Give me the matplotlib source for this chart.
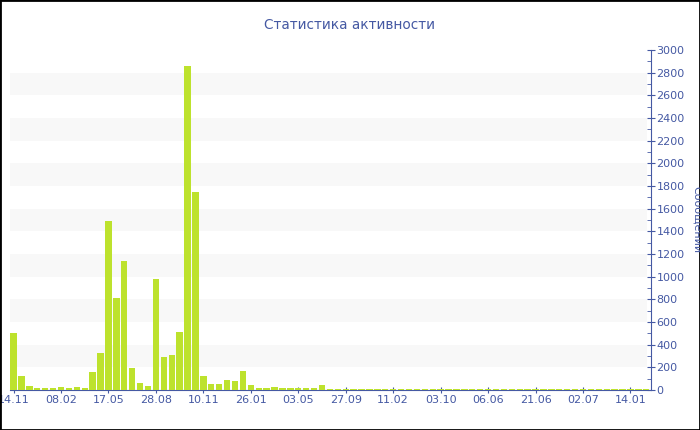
import numpy as np
import matplotlib.pyplot as plt
from matplotlib.patches import Rectangle

title = "Статистика активности"
ylabel = "Сообщений"

# messages per period
counts = [500, 124, 35, 18, 15, 15, 26, 15, 24, 18,
          162, 324, 1490, 812, 1140, 194, 65, 35, 978, 288,
          306, 512, 2855, 1745, 121, 56, 53, 91, 76, 171,
          41, 21, 21, 24, 18, 18, 18, 15, 15, 41,
          12, 12, 12, 12, 12, 12, 12, 12, 12, 12,
          12, 12, 12, 12, 12, 12, 12, 12, 12, 12,
          12, 12, 12, 12, 12, 12, 12, 12, 12, 12,
          12, 12, 12, 12, 12, 12, 12, 12, 12, 12,
          12]
tick_labels = ["14.11", "08.02", "17.05", "28.08", "10.11", "26.01", "03.05",
               "27.09", "11.02", "03.10", "06.06", "21.06", "02.07", "14.01"]
tick_step = 6

blue = '#4559a3'
green = '#bde22d'

fig = plt.figure(figsize=(7, 4.3), dpi=100)
ax = fig.add_axes([10/700, 40/430, 641/700, 340/430])

x = np.arange(len(counts))
ax.bar(x, counts, width=0.8, color=green, zorder=3)

# light stripes between every other 200-step
for lo in range(200, 3000, 400):
    ax.axhspan(lo, lo + 200, xmin=0, xmax=0.994, color='#f8f8f8', zorder=0, lw=0)

ax.set_xlim(-0.45, len(counts) - 0.4)
ax.set_ylim(0, 3000)

for s in ['top', 'left']:
    ax.spines[s].set_visible(False)
ax.spines['right'].set_color(blue)
ax.spines['bottom'].set_color(blue)

ax.yaxis.tick_right()
ax.set_yticks(np.arange(0, 3001, 200))
ax.set_yticks(np.arange(100, 3000, 200), minor=True)
ax.tick_params(axis='y', which='major', direction='inout', length=6, color=blue,
               labelcolor=blue, labelsize=8, pad=1)
ax.tick_params(axis='y', which='minor', direction='in', length=3, color=blue)

ax.set_xticks(x[::tick_step][:len(tick_labels)])
ax.set_xticklabels(tick_labels)
ax.tick_params(axis='x', direction='inout', length=5, color=blue,
               labelcolor=blue, labelsize=8, pad=1)

fig.text(349/700, 1 - 25/430, title, color=blue, fontsize=9.8,
         ha='center', va='center')
fig.text(697/700, 1 - 220/430, ylabel, color=blue, fontsize=8,
         rotation=270, ha='center', va='center')

fig.patches.append(Rectangle((0, 0), 1, 1, transform=fig.transFigure,
                             fill=False, edgecolor='black', lw=2))

fig.savefig('out.png', dpi=100)
